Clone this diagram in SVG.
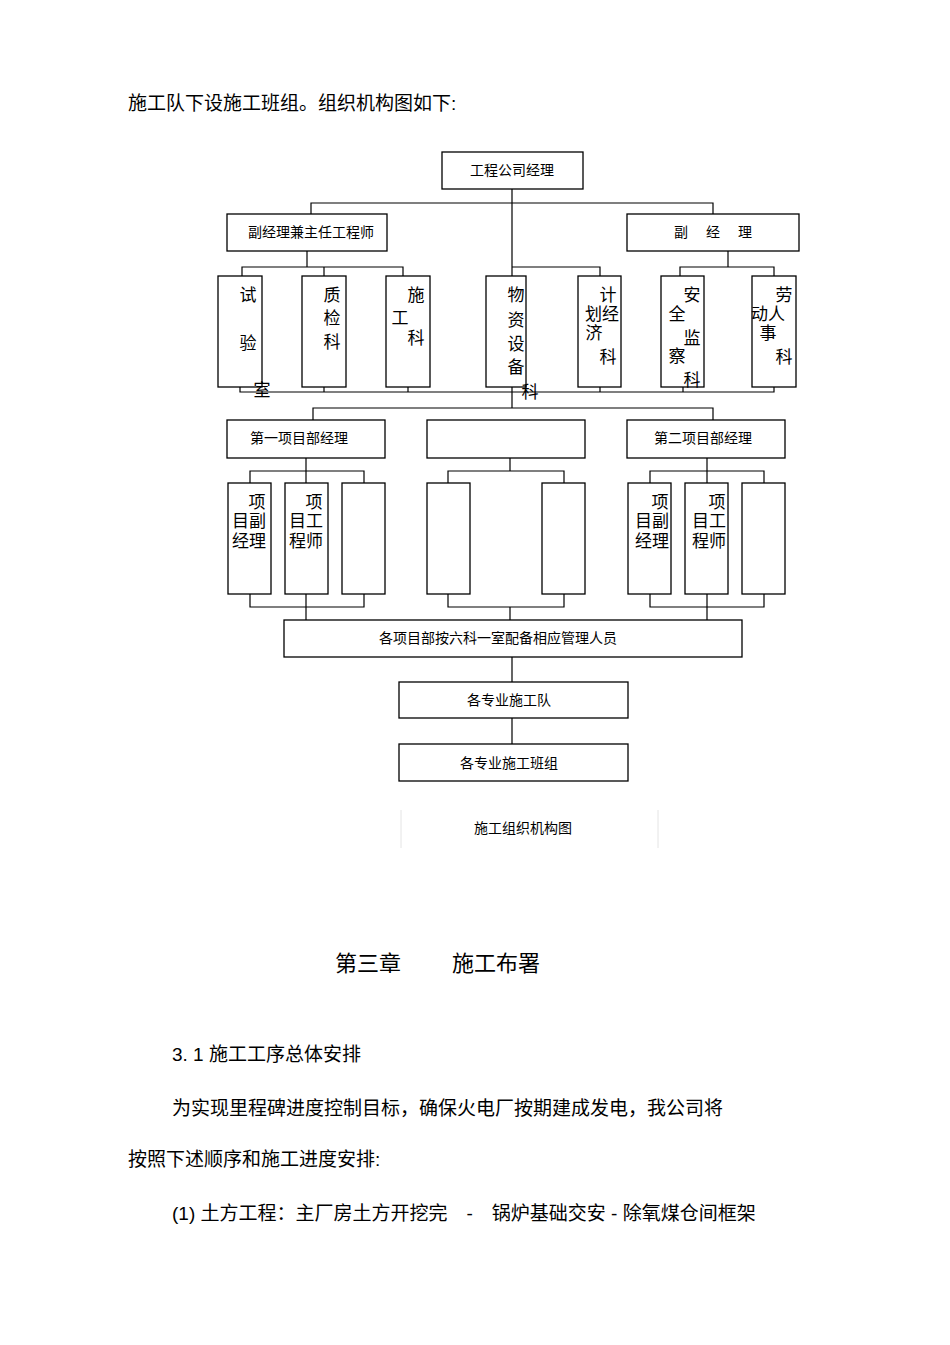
<svg xmlns="http://www.w3.org/2000/svg" width="950" height="1345" viewBox="0 0 950 1345">
<style>
.b{fill:#fff;stroke:#000;stroke-width:1.3}
.c{fill:none;stroke:#000;stroke-width:1.2}
text{font-family:"Liberation Sans","Noto Sans CJK SC",sans-serif;fill:#000}
.t{font-size:14px;text-anchor:middle}
.v{font-size:17px;text-anchor:middle}
.p{font-size:19px}
</style>
<rect width="950" height="1345" fill="#fff"/>
<text class="p" x="128" y="110">施工队下设施工班组。组织机构图如下:</text>
<g id="connectors">
<path class="c" d="M512 189V392M311 214V203H713V214"/>
<path class="c" d="M307 251V267M242 276V267H403V276M324 267V276"/>
<path class="c" d="M512 267H600V276"/>
<path class="c" d="M728 251V267M680 276V267H774V276"/>
<path class="c" d="M240 387V392H774V387M324 387V392M408 387V392M600 387V392M683 387V392"/>
<path class="c" d="M512 392V408M313 420V408H713V420"/>
<path class="c" d="M306 458V471M250 483V471H364V483M306 471V483"/>
<path class="c" d="M510 458V471M448 483V471H564V483"/>
<path class="c" d="M707 458V471M650 483V471H764V483M707 471V483"/>
<path class="c" d="M250 594V607H364V594M306 594V620"/>
<path class="c" d="M448 594V607H564V594M510 607V620"/>
<path class="c" d="M650 594V607H764V594M707 594V620"/>
<path class="c" d="M512 657V682M512 718V744"/>
</g>
<g id="n1"><rect class="b" x="442" y="152" width="141" height="37"/><text class="t" x="512" y="175">工程公司经理</text></g>
<g id="n2"><rect class="b" x="227" y="214" width="160" height="37"/><text class="t" x="311" y="237">副经理兼主任工程师</text></g>
<g id="n3"><rect class="b" x="627" y="214" width="172" height="37"/><text class="t" x="713" y="237" xml:space="preserve">副　 经　 理</text></g>
<g id="s1"><rect class="b" x="218" y="276" width="44" height="111"/><text class="v" x="248" y="301">试</text><text class="v" x="248" y="349">验</text><text class="v" x="262" y="396">室</text></g>
<g id="s2"><rect class="b" x="302" y="276" width="44" height="111"/><text class="v" x="332" y="301">质</text><text class="v" x="332" y="324">检</text><text class="v" x="332" y="348">科</text></g>
<g id="s3"><rect class="b" x="386" y="276" width="44" height="111"/><text class="v" x="416" y="301">施</text><text class="v" x="400" y="324">工</text><text class="v" x="416" y="344">科</text></g>
<g id="s4"><rect class="b" x="486" y="276" width="40" height="111"/><text class="v" x="516" y="301">物</text><text class="v" x="516" y="326">资</text><text class="v" x="516" y="350">设</text><text class="v" x="516" y="373">备</text><text class="v" x="530" y="398">科</text></g>
<g id="s5"><rect class="b" x="578" y="276" width="43" height="111"/><text class="v" x="608" y="301">计</text><text class="v" x="602" y="320">划经</text><text class="v" x="594" y="339">济</text><text class="v" x="608" y="363">科</text></g>
<g id="s6"><rect class="b" x="661" y="276" width="43" height="111"/><text class="v" x="692" y="301">安</text><text class="v" x="677" y="320">全</text><text class="v" x="692" y="344">监</text><text class="v" x="677" y="362">察</text><text class="v" x="692" y="386">科</text></g>
<g id="s7"><rect class="b" x="752" y="276" width="44" height="111"/><text class="v" x="784" y="301">劳</text><text class="v" x="768" y="320">动人</text><text class="v" x="768" y="339">事</text><text class="v" x="784" y="363">科</text></g>
<g id="p1"><rect class="b" x="227" y="420" width="158" height="38"/><text class="t" x="299" y="443">第一项目部经理</text></g>
<g id="p2"><rect class="b" x="427" y="420" width="158" height="38"/></g>
<g id="p3"><rect class="b" x="627" y="420" width="158" height="38"/><text class="t" x="703" y="443">第二项目部经理</text></g>
<g id="q1"><rect class="b" x="228" y="483" width="43" height="111"/><text class="v" x="257" y="508">项</text><text class="v" x="249" y="527">目副</text><text class="v" x="249" y="547">经理</text></g>
<g id="q2"><rect class="b" x="285" y="483" width="43" height="111"/><text class="v" x="314" y="508">项</text><text class="v" x="306" y="527">目工</text><text class="v" x="306" y="547">程师</text></g>
<g id="q3"><rect class="b" x="342" y="483" width="43" height="111"/></g>
<g id="q4"><rect class="b" x="427" y="483" width="43" height="111"/></g>
<g id="q5"><rect class="b" x="542" y="483" width="43" height="111"/></g>
<g id="q6"><rect class="b" x="628" y="483" width="43" height="111"/><text class="v" x="660" y="508">项</text><text class="v" x="652" y="527">目副</text><text class="v" x="652" y="547">经理</text></g>
<g id="q7"><rect class="b" x="685" y="483" width="43" height="111"/><text class="v" x="717" y="508">项</text><text class="v" x="709" y="527">目工</text><text class="v" x="709" y="547">程师</text></g>
<g id="q8"><rect class="b" x="742" y="483" width="43" height="111"/></g>
<g id="m1"><rect class="b" x="284" y="620" width="458" height="37"/><text class="t" x="498" y="643">各项目部按六科一室配备相应管理人员</text></g>
<g id="m2"><rect class="b" x="399" y="682" width="229" height="36"/><text class="t" x="509" y="705">各专业施工队</text></g>
<g id="m3"><rect class="b" x="399" y="744" width="229" height="37"/><text class="t" x="509" y="768">各专业施工班组</text></g>
<g id="caption"><path d="M401 810V848M658 810V848" stroke="#e4e4e4" stroke-width="1"/><text class="t" x="523" y="833">施工组织机构图</text></g>
<text x="335" y="971" style="font-size:22px">第三章</text>
<text x="452" y="971" style="font-size:22px">施工布署</text>
<text class="p" x="172" y="1061">3. 1 施工工序总体安排</text>
<text class="p" x="172" y="1115">为实现里程碑进度控制目标，确保火电厂按期建成发电，我公司将</text>
<text class="p" x="128" y="1166">按照下述顺序和施工进度安排:</text>
<text class="p" x="172" y="1220" xml:space="preserve">(1) 土方工程：主厂房土方开挖完　-　锅炉基础交安 - 除氧煤仓间框架</text>
</svg>
